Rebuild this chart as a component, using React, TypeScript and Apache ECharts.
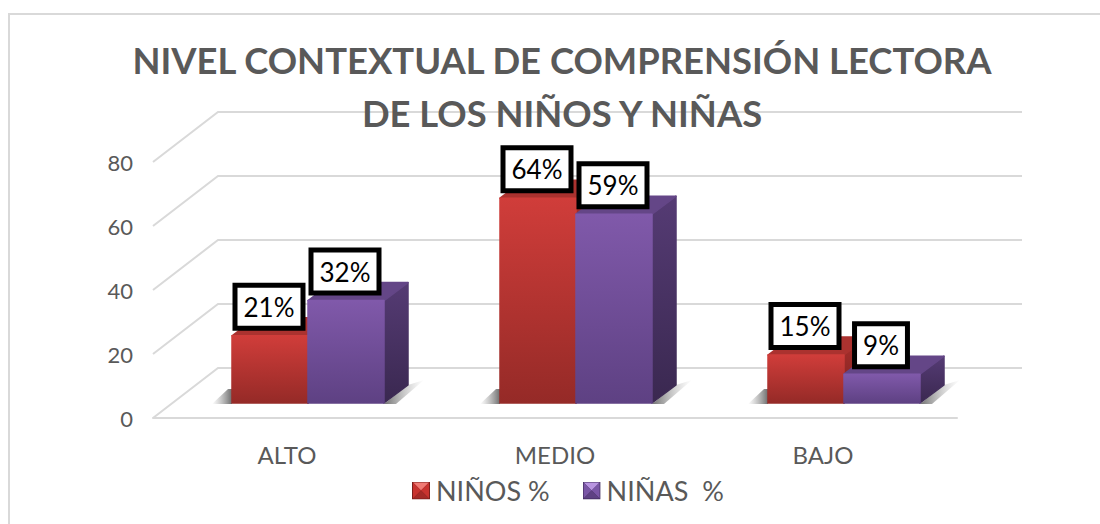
import React, { useEffect, useRef } from "react";
import * as echarts from "echarts";

const categories = ["ALTO", "MEDIO", "BAJO"];
const ninos = [21, 64, 15];
const ninas = [32, 59, 9];
const ninosLabels = ["21%", "64%", "15%"];
const ninasLabels = ["32%", "59%", "9%"];
const yTicks = [0, 20, 40, 60, 80];
const seriesNames = ["NIÑOS %", "NIÑAS  %"];

const FONT = "Lato, Carlito, Calibri, sans-serif";
const GREY = "#595959";

const grad = (x2: number, y2: number, a: string, b: string) =>
  new echarts.graphic.LinearGradient(0, 0, x2, y2, [
    { offset: 0, color: a },
    { offset: 1, color: b },
  ]);

const icon = (light: string, mid: string, dark: string, bottom: string) =>
  "image://data:image/svg+xml;utf8," +
  encodeURIComponent(
    `<svg xmlns="http://www.w3.org/2000/svg" width="18" height="18"><rect width="18" height="18" fill="${dark}"/><polygon points="1,1 17,1 9,9" fill="${light}"/><polygon points="1,1 9,9 1,17" fill="${mid}"/><polygon points="17,1 9,9 17,17" fill="${mid}"/><polygon points="1,17 9,9 17,17" fill="${bottom}"/></svg>`
  );

function bars(values: number[], labels: string[], palette: any, offset: number, shadowSide: "left" | "right") {
  return (params: any, api: any) => {
    const i = api.value(0);
    const v = api.value(1);
    const band = api.size([1, 0])[0];
    const w = (band * 76) / 268;
    const base = api.coord([i, 0]);
    const top = api.coord([i, v]);
    const x0 = base[0] + 21 + offset * w;
    const x1 = x0 + w;
    const yb = base[1] - 15;
    const yt = top[1] - 15;
    const dx = 24;
    const dy = 18;
    const poly = (points: number[][], fill: any, z2 = 0) => ({
      type: "polygon",
      shape: { points },
      z2,
      style: { fill, stroke: fill, lineWidth: 1.5, lineJoin: "round" },
    });
    const children: any[] = [];
    if (shadowSide === "left") {
      children.push({
        type: "polygon",
        shape: { points: [[x0 - 20, yb + 1], [x0 - 4, yb - 14], [x0, yb - 14], [x0, yb + 1]] },
        style: { fill: grad(1, 0, "rgba(120,120,120,0)", "rgba(60,60,60,0.75)") },
      });
    } else {
      children.push({
        type: "polygon",
        shape: { points: [[x1, yb + 1], [x1 + dx, yb - dy], [x1 + dx + 16, yb - dy - 5], [x1 + 12, yb + 1]] },
        style: { fill: grad(1, 0, "rgba(50,50,50,0.7)", "rgba(150,150,150,0)") },
      });
    }
    children.push(
      poly([[x1, yt], [x1 + dx, yt - dy], [x1 + dx, yb - dy], [x1, yb]], grad(0, 1, palette.sideTop, palette.sideBottom)),
      poly([[x0, yt], [x0 + dx, yt - dy], [x1 + dx, yt - dy], [x1, yt]], palette.top),
      poly([[x0, yt], [x1, yt], [x1, yb], [x0, yb]], grad(0, 1, palette.frontTop, palette.frontBottom)),
      {
        type: "text",
        z2: 100,
        x: (x0 + x1) / 2 - 1,
        y: yt - 29,
        style: {
          text: labels[params.dataIndex],
          align: "center",
          verticalAlign: "middle",
          fontFamily: FONT,
          fontSize: 26,
          fill: "#000",
          backgroundColor: "#fff",
          borderColor: "#000",
          borderWidth: 5,
          padding: [6, 6, 6, 6],
        },
      }
    );
    return { type: "group", children };
  };
}

const red = {
  frontTop: "#d03d3a",
  frontBottom: "#952a27",
  top: "#ab322f",
  sideTop: "#a92f2c",
  sideBottom: "#7d2220",
};
const purple = {
  frontTop: "#8059aa",
  frontBottom: "#5e4183",
  top: "#644687",
  sideTop: "#553b74",
  sideBottom: "#3a2850",
};

export default function App() {
  const ref = useRef<HTMLDivElement>(null);
  useEffect(() => {
    document.body.style.margin = "0";
    const chart = echarts.init(ref.current!, undefined, { renderer: "svg" });
    chart.setOption({
      animation: false,
      backgroundColor: "#fff",
      title: {
        text: "NIVEL CONTEXTUAL DE COMPRENSIÓN LECTORA\nDE LOS NIÑOS Y NIÑAS",
        left: 557,
        top: 28,
        textAlign: "center",
        z: 20,
        textStyle: { fontFamily: FONT, fontWeight: "bold", fontSize: 36.4, lineHeight: 53, color: GREY },
      },
      legend: {
        left: 407,
        top: 472,
        itemWidth: 18,
        itemHeight: 18,
        itemGap: 33,
        textStyle: { fontFamily: FONT, fontSize: 27, color: GREY, padding: [0, 0, 0, 1] },
        data: [
          { name: seriesNames[0], icon: icon("#f07a74", "#c8332f", "#7a1f1c", "#a52a27") },
          { name: seriesNames[1], icon: icon("#b894e0", "#7a56a6", "#3f2b5c", "#5e4183") },
        ],
      },
      grid: { left: 153, top: 162, width: 804, height: 256 },
      xAxis: {
        type: "category",
        data: categories,
        axisLine: { show: true, lineStyle: { color: "#d9d9d9", width: 2 } },
        axisTick: { show: false },
        axisLabel: { fontFamily: FONT, fontSize: 24, color: GREY, margin: 24 },
      },
      yAxis: {
        type: "value",
        min: 0,
        max: 80,
        interval: 20,
        splitLine: { show: false },
        axisLine: { show: false },
        axisTick: { show: false },
        axisLabel: { fontFamily: FONT, fontSize: 22, color: GREY, margin: 20 },
      },
      graphic: [
        {
          type: "polyline",
          shape: { points: [[9, 524], [9, 14], [1100, 14]] },
          style: { stroke: "#d9d9d9", lineWidth: 2, fill: "none" },
          silent: true,
        },
      ],
      series: [
        {
          type: "custom",
          name: "grid",
          silent: true,
          z: 1,
          data: yTicks.map((t) => [0, t]),
          encode: { x: 0, y: 1 },
          renderItem: (params: any, api: any) => {
            const cs = params.coordSys;
            const y = api.coord([0, api.value(1)])[1];
            return {
              type: "polyline",
              shape: { points: [[cs.x, y], [cs.x + 65, y - 50], [cs.x + cs.width + 65, y - 50]] },
              style: { stroke: "#d9d9d9", lineWidth: 2, fill: "none" },
            };
          },
        },
        {
          type: "custom",
          name: seriesNames[0],
          z: 3,
          itemStyle: { color: "#c8332f" },
          data: ninos.map((v, i) => [i, v]),
          encode: { x: 0, y: 1 },
          renderItem: bars(ninos, ninosLabels, red, -1, "left"),
        },
        {
          type: "custom",
          name: seriesNames[1],
          z: 4,
          itemStyle: { color: "#7a56a6" },
          data: ninas.map((v, i) => [i, v]),
          encode: { x: 0, y: 1 },
          renderItem: bars(ninas, ninasLabels, purple, 0, "right"),
        },
      ],
    });
    return () => chart.dispose();
  }, []);
  return <div ref={ref} style={{ width: 1100, height: 524 }} />;
}
